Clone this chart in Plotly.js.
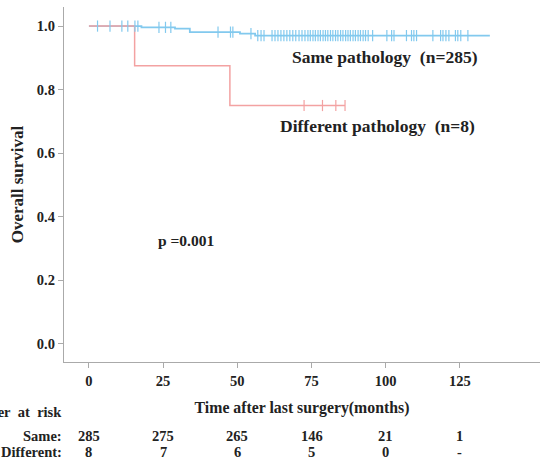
<!DOCTYPE html>
<html>
<head>
<meta charset="utf-8">
<script src="https://cdn.plot.ly/plotly-3.0.1.min.js"></script>
<style>html,body{margin:0;padding:0;background:#fff;}#chart{width:540px;height:463px;}</style>
</head>
<body>
<div id="chart"></div>
<script>
// ---- data ----
const sameEventTimes = [0, 17.7, 29.0, 34.0, 50.9, 56.0, 135.1];
const sameSurvival   = [1.0, 0.996, 0.992, 0.981, 0.976, 0.970, 0.970];
const sameCensorTimes = [2.9, 7.1, 11.1, 13.1, 15.5, 16.5, 23.6, 25.8, 27.6, 43.5, 47.7, 48.5, 54.6,
  56.9, 58.0, 59.0, 61.7, 62.7, 63.7, 64.7, 65.7, 66.7, 67.7, 68.7, 69.7, 70.8, 71.8, 72.8, 73.8,
  74.6, 75.5, 76.3, 77.2, 78.0, 78.9, 79.7, 80.5, 81.4, 82.2, 83.1, 83.9, 84.8, 85.6, 86.5, 87.3,
  88.1, 89.0, 89.8, 90.7, 91.5, 92.4, 93.2, 94.1, 95.6, 100.4, 102.0, 102.8, 107.0, 108.7, 109.5,
  110.4, 115.9, 118.5, 119.3, 120.3, 121.3, 123.5, 124.3, 125.3, 127.7];

const diffEventTimes = [0, 15.4, 47.5, 86.3];
const diffSurvival   = [1.0, 0.875, 0.75, 0.75];
const diffCensorTimes = [72.5, 78.7, 83.2, 86.3];

const riskTimes = [0, 25, 50, 75, 100, 125];
const riskSame = ["285", "275", "265", "146", "21", "1"];
const riskDiff = ["8", "7", "6", "5", "0", "-"];

const xTickVals = [0, 25, 50, 75, 100, 125];
const yTickVals = [0.0, 0.2, 0.4, 0.6, 0.8, 1.0];

// ---- helpers ----
function survAt(times, surv, t) {
  let s = surv[0];
  for (let i = 0; i < times.length; i++) { if (times[i] <= t) s = surv[i]; }
  return s;
}
const blue = '#82c9ee';
const red = '#f3a2a2';
const FONT = 'Liberation Serif, Times New Roman, serif';

const traces = [
  {x: sameEventTimes, y: sameSurvival, mode: 'lines', line: {shape: 'hv', color: blue, width: 1.8}, hoverinfo: 'skip', showlegend: false},
  {x: diffEventTimes, y: diffSurvival, mode: 'lines', line: {shape: 'hv', color: red, width: 1.5}, hoverinfo: 'skip', showlegend: false},
  {x: sameCensorTimes, y: sameCensorTimes.map(t => survAt(sameEventTimes, sameSurvival, t)), mode: 'markers',
   marker: {symbol: 'line-ns', size: 8, line: {color: blue, width: 1.2}}, hoverinfo: 'skip', showlegend: false},
  {x: diffCensorTimes, y: diffCensorTimes.map(t => survAt(diffEventTimes, diffSurvival, t)), mode: 'markers',
   marker: {symbol: 'line-ns', size: 8, line: {color: red, width: 1.2}}, hoverinfo: 'skip', showlegend: false}
];

const annFont = (s) => ({family: FONT, size: s, color: '#222', weight: 'bold'});
const annotations = [
  {xref: 'x', yref: 'y', x: 67.7, y: 0.902, text: 'Same pathology\u00a0\u00a0(n=285)', showarrow: false, xanchor: 'left', yanchor: 'middle', font: annFont(17.5)},
  {xref: 'x', yref: 'y', x: 63.7, y: 0.685, text: 'Different pathology\u00a0\u00a0(n=8)', showarrow: false, xanchor: 'left', yanchor: 'middle', font: annFont(17.5)},
  {xref: 'x', yref: 'y', x: 22.6, y: 0.325, text: 'p =0.001', showarrow: false, xanchor: 'left', yanchor: 'middle', font: annFont(15.5)},
  {xref: 'paper', yref: 'paper', x: 0.0, y: (362 - 412) / 355, text: 'Number\u00a0 at\u00a0 risk', showarrow: false, xanchor: 'right', yanchor: 'middle', font: annFont(14.5)},
  {xref: 'paper', yref: 'paper', x: 0.0, y: (362 - 436) / 355, text: 'Same:', showarrow: false, xanchor: 'right', yanchor: 'middle', font: annFont(14.5)},
  {xref: 'paper', yref: 'paper', x: 0.0, y: (362 - 452) / 355, text: 'Different:', showarrow: false, xanchor: 'right', yanchor: 'middle', font: annFont(14.5)}
];
riskTimes.forEach((t, i) => {
  annotations.push({xref: 'x', yref: 'paper', x: t, y: (362 - 436) / 355, text: riskSame[i], showarrow: false, xanchor: 'center', yanchor: 'middle', font: annFont(14.5)});
  annotations.push({xref: 'x', yref: 'paper', x: t, y: (362 - 452) / 355, text: riskDiff[i], showarrow: false, xanchor: 'center', yanchor: 'middle', font: annFont(14.5)});
});

const layout = {
  width: 540, height: 463,
  margin: {l: 64, r: 0, t: 7, b: 101},
  paper_bgcolor: '#fff', plot_bgcolor: '#fff',
  font: {family: FONT, color: '#222'},
  xaxis: {
    range: [-8.4, 152], tickvals: xTickVals, ticktext: xTickVals.map(String),
    showline: true, linecolor: '#aaa', linewidth: 1.2, ticks: 'outside', ticklen: 5, tickcolor: '#aaa',
    showgrid: false, zeroline: false,
    tickfont: {family: FONT, size: 14.5, color: '#222', weight: 'bold'},
    title: {text: 'Time after last surgery(months)', font: {family: FONT, size: 15.8, color: '#222', weight: 'bold'}, standoff: 14}
  },
  yaxis: {
    range: [-0.057, 1.06], tickvals: yTickVals, ticktext: yTickVals.map(v => v.toFixed(1)),
    showline: true, linecolor: '#aaa', linewidth: 1.2, ticks: 'outside', ticklen: 5, tickcolor: '#aaa',
    showgrid: false, zeroline: false,
    tickfont: {family: FONT, size: 14.5, color: '#222', weight: 'bold'},
    title: {text: 'Overall survival', font: {family: FONT, size: 17, color: '#222', weight: 'bold'}, standoff: 8}
  },
  annotations: annotations
};

Plotly.newPlot('chart', traces, layout, {displayModeBar: false, staticPlot: true});
</script>
</body>
</html>
